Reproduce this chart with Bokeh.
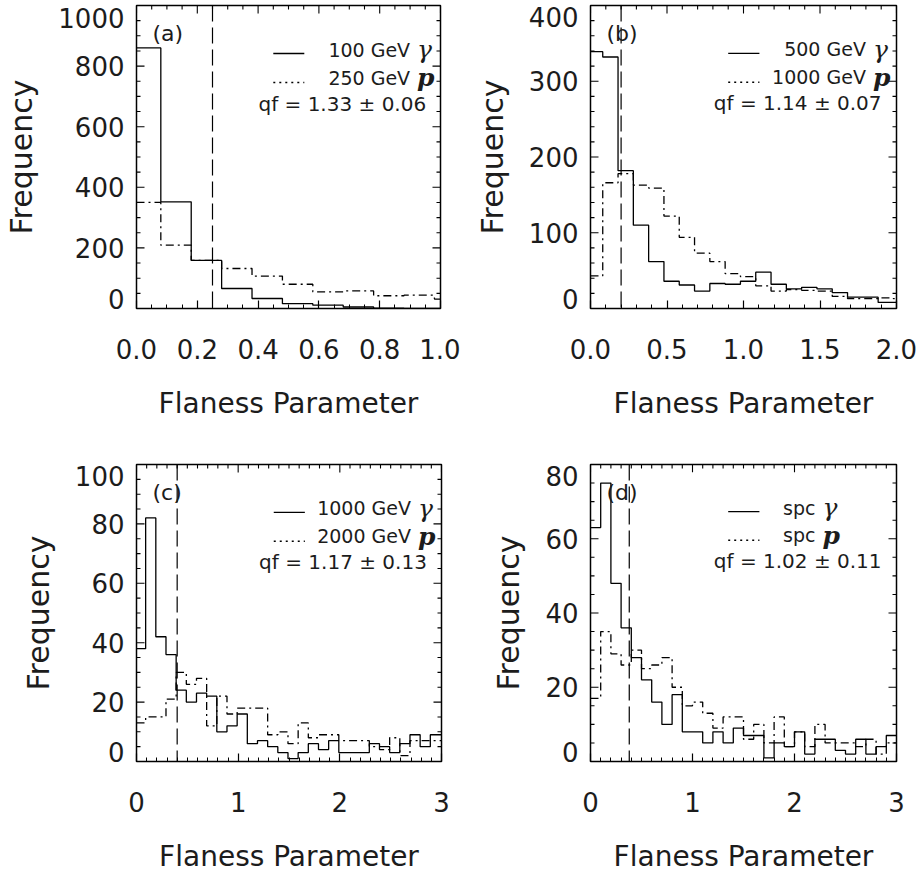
import numpy as np
from bokeh.plotting import figure
from bokeh.layouts import column, row
from bokeh.models import Range1d, FixedTicker, Span, Label, Arrow, LinearAxis
from bokeh.embed import file_html
from bokeh.resources import INLINE

# ---- histogram data: bin edges and counts (gamma = solid, proton = dash-dot) ----
a_edges = [0.0, 0.08, 0.18, 0.28, 0.38, 0.48, 0.58, 0.68, 0.78, 0.88, 0.98, 1.0]
a_gamma = [860, 352, 159, 66, 33, 16, 11, 5, 1, 0, 0]
a_proton = [350, 209, 159, 132, 107, 80, 55, 58, 42, 44, 31]

b_edges = [0.0, 0.08, 0.18, 0.28, 0.38, 0.48, 0.58, 0.68, 0.78, 0.88, 0.98,
           1.08, 1.18, 1.28, 1.38, 1.48, 1.58, 1.68, 1.78, 1.88, 1.98, 2.0]
b_gamma = [339, 332, 182, 110, 62, 36, 31, 23, 33, 32, 36, 48, 32, 26, 28, 26, 21, 15, 15, 8, 8]
b_proton = [43, 166, 178, 163, 159, 122, 94, 73, 62, 46, 42, 30, 23, 25, 24, 23, 16, 13, 13, 14, 13]

c_edges = [0.0, 0.09, 0.19, 0.29, 0.39, 0.49, 0.59, 0.69, 0.79, 0.89, 0.99,
           1.09, 1.19, 1.29, 1.39, 1.49, 1.59, 1.69, 1.79, 1.89, 1.99,
           2.09, 2.19, 2.29, 2.39, 2.49, 2.59, 2.69, 2.79, 2.89, 3.0]
c_gamma = [38, 82, 42, 36, 24, 20, 23, 22, 10, 12, 16, 6, 7, 5, 3,
           1, 3, 6, 4, 7, 3, 3, 3, 6, 5, 3, 6, 9, 5, 9]
c_proton = [13, 15, 15, 21, 30, 26, 28, 12, 22, 16, 18, 18, 18, 9, 10,
            6, 13, 8, 9, 9, 7, 7, 7, 5, 4, 8, 2, 7, 7, 7]

d_edges = [0.0, 0.1, 0.2, 0.3, 0.4, 0.5, 0.6, 0.7, 0.8, 0.9, 1.0,
           1.1, 1.2, 1.3, 1.4, 1.5, 1.6, 1.7, 1.8, 1.9, 2.0,
           2.1, 2.2, 2.3, 2.4, 2.5, 2.6, 2.7, 2.8, 2.9, 3.0]
d_gamma = [63, 75, 48, 36, 28, 22, 16, 10, 18, 8, 8, 5, 8, 5, 9,
           7, 7, 1, 5, 4, 8, 2, 6, 6, 3, 2, 6, 2, 4, 7]
d_proton = [17, 35, 29, 26, 30, 25, 26, 28, 20, 15, 16, 13, 9, 12, 12,
            6, 10, 5, 12, 4, 8, 4, 10, 5, 5, 5, 4, 6, 2, 5]

# cut positions (vertical dashed lines)
cuts = [0.25, 0.2, 0.4, 0.38]

# axis ranges and tick labels
x_max = [1.0, 2.0, 3.0, 3.0]
y_max = [1000, 400, 100, 80]
x_ticks = [[0.0, 0.2, 0.4, 0.6, 0.8, 1.0], [0.0, 0.5, 1.0, 1.5, 2.0], [0, 1, 2, 3], [0, 1, 2, 3]]
x_tick_labels = [["0.0", "0.2", "0.4", "0.6", "0.8", "1.0"],
                 ["0.0", "0.5", "1.0", "1.5", "2.0"],
                 ["0", "1", "2", "3"], ["0", "1", "2", "3"]]
y_ticks = [[0, 200, 400, 600, 800, 1000], [0, 100, 200, 300, 400],
           [0, 20, 40, 60, 80, 100], [0, 20, 40, 60, 80]]
y_tick_labels = [["0", "200", "400", "600", "800", "1000"],
                 ["0", "100", "200", "300", "400"],
                 ["0", "20", "40", "60", "80", "100"],
                 ["0", "20", "40", "60", "80"]]
x_minor_step = [0.05, 0.1, 0.1, 0.1]
y_minor_step = [50, 20, 5, 5]

# annotation texts
tags = ["(a)", "(b)", "(c)", "(d)"]
gamma_labels = ["100 GeV", "500 GeV", "1000 GeV", "spc"]
proton_labels = ["250 GeV", "1000 GeV", "2000 GeV", "spc"]
qf_labels = ["qf = 1.33 \u00b1 0.06", "qf = 1.14 \u00b1 0.07",
             "qf = 1.17 \u00b1 0.13", "qf = 1.02 \u00b1 0.11"]

edges_all = [a_edges, b_edges, c_edges, d_edges]
gamma_all = [a_gamma, b_gamma, c_gamma, d_gamma]
proton_all = [a_proton, b_proton, c_proton, d_proton]

# figure geometry: (width, height, left, right, top, bottom) borders in px
geom = [(460, 440, 136, 20, 5, 132),
        (460, 440, 130, 24, 5, 131),
        (460, 435, 136, 19, 24, 113),
        (460, 435, 130, 24, 20, 113)]
# where the gamma/proton text ends, as a fraction of frame width
name_end = [0.90, 0.90, 0.90, 0.735]

SANS = "DejaVu Sans"
SERIF = "DejaVu Serif"
INK = "#1c1c1c"
MAJ, MIN = 8, 4  # tick lengths, px


def minor_list(lo, hi, step, majors):
    n = int(round((hi - lo) / step))
    vals = [round(lo + k * step, 6) for k in range(n + 1)]
    return [v for v in vals if all(abs(v - m) > 1e-9 for m in majors)]


def panel(i):
    w, h, bl, br, bt, bb = geom[i]
    fw = w - bl - br
    fh = h - bt - bb
    x1, y1 = x_max[i], y_max[i]
    p = figure(width=w, height=h, x_range=Range1d(0, x1), y_range=Range1d(0, y1),
               output_backend="svg", toolbar_location=None, y_axis_location=None,
               min_border_left=bl, min_border_right=br,
               min_border_top=bt, min_border_bottom=bb)
    p.grid.visible = False
    p.outline_line_color = "black"
    p.outline_line_width = 1.5
    p.background_fill_color = "white"
    p.border_fill_color = "white"

    def px_x(px):
        return px / fw * x1

    def px_y(px):
        return px / fh * y1

    xmin = minor_list(0, x1, x_minor_step[i], x_ticks[i])
    ymin = minor_list(0, y1, y_minor_step[i], y_ticks[i])

    # bottom axis: ticks pointing inward, labels and title below
    xa = p.below[0]
    xa.ticker = FixedTicker(ticks=x_ticks[i], minor_ticks=xmin)
    xa.axis_line_color = None
    xa.major_tick_in, xa.major_tick_out = MAJ, 0
    xa.minor_tick_in, xa.minor_tick_out = MIN, 0
    xa.major_tick_line_color = "black"
    xa.minor_tick_line_color = "black"
    xa.major_tick_line_width = 1.2
    xa.major_label_overrides = {float(t): s for t, s in zip(x_ticks[i], x_tick_labels[i])}
    xa.major_label_text_font = SANS
    xa.major_label_text_font_size = "26px"
    xa.major_label_text_color = INK
    xa.major_label_standoff = 30
    xa.axis_label = "Flaness Parameter"
    xa.axis_label_text_font = SANS
    xa.axis_label_text_font_size = "28px"
    xa.axis_label_text_font_style = "normal"
    xa.axis_label_text_color = INK
    xa.axis_label_standoff = 25

    # left axis carries only the labels; the end labels sit inside the box height
    n = len(y_ticks[i])
    label_pos = []
    for k, v in enumerate(y_ticks[i]):
        if k == 0:
            label_pos.append(float(v + px_y(10)))
        elif k == n - 1:
            label_pos.append(float(v - px_y(12)))
        else:
            label_pos.append(float(v))
    ya = LinearAxis(ticker=FixedTicker(ticks=label_pos, minor_ticks=[]))
    ya.axis_line_color = None
    ya.major_tick_line_color = None
    ya.minor_tick_line_color = None
    ya.major_tick_in = ya.major_tick_out = 0
    ya.minor_tick_in = ya.minor_tick_out = 0
    ya.major_label_overrides = {pos: s for pos, s in zip(label_pos, y_tick_labels[i])}
    ya.major_label_text_font = SANS
    ya.major_label_text_font_size = "26px"
    ya.major_label_text_color = INK
    ya.major_label_standoff = 12
    ya.axis_label = "Frequency"
    ya.axis_label_text_font = SANS
    ya.axis_label_text_font_size = "30px"
    ya.axis_label_text_font_style = "normal"
    ya.axis_label_text_color = INK
    ya.axis_label_standoff = 16
    p.add_layout(ya, "left")

    # tick marks on the top, left and right sides of the box
    tx0, ty0, tx1, ty1 = [], [], [], []
    for vals, ln in ((x_ticks[i], MAJ), (xmin, MIN)):
        for v in vals:
            tx0.append(v); ty0.append(y1); tx1.append(v); ty1.append(y1 - px_y(ln))
    for vals, ln in ((y_ticks[i], MAJ), (ymin, MIN)):
        for v in vals:
            tx0.append(0); ty0.append(v); tx1.append(px_x(ln)); ty1.append(v)
            tx0.append(x1); ty0.append(v); tx1.append(x1 - px_x(ln)); ty1.append(v)
    p.segment(x0=tx0, y0=ty0, x1=tx1, y1=ty1, line_color="black", line_width=1.1)

    # histograms
    edges = edges_all[i]
    g = gamma_all[i]
    pr = proton_all[i]
    p.step(x=edges, y=g + [g[-1]], mode="after", line_color="black", line_width=1.3)
    p.step(x=edges, y=pr + [pr[-1]], mode="after", line_color="black", line_width=1.3,
           line_dash="8 4 2 4")

    # cut line
    p.add_layout(Span(location=cuts[i], dimension="height", line_color="black",
                      line_width=1.2, line_dash="16 6"))

    def fy(px_from_top):
        return y1 - px_y(px_from_top)

    p.add_layout(Label(x=px_x(16), y=fy(28), text=tags[i], text_font=SANS,
                       text_font_size="22px", text_color=INK, text_baseline="middle"))

    rows = [44, 72, 98]
    x_end = name_end[i] * x1
    for r, name, sym, style in ((rows[0], gamma_labels[i], "\u03b3", "italic"),
                                (rows[1], proton_labels[i], "p", "bold italic")):
        p.add_layout(Label(x=x_end, y=fy(r), text=name, text_font=SANS,
                           text_font_size="19px", text_color=INK,
                           text_align="right", text_baseline="middle"))
        p.add_layout(Label(x=x_end + px_x(7), y=fy(r), text=sym, text_font=SERIF,
                           text_font_size="25px", text_font_style=style, text_color=INK,
                           text_align="left", text_baseline="middle"))
    # legend line samples
    xs0, xs1 = 0.45 * x1, 0.552 * x1
    p.add_layout(Arrow(x_start=xs0, y_start=fy(rows[0] + 4), x_end=xs1, y_end=fy(rows[0] + 4),
                       start=None, end=None, line_color="black", line_width=1.3))
    p.add_layout(Arrow(x_start=xs0, y_start=fy(rows[1] + 5), x_end=xs1, y_end=fy(rows[1] + 5),
                       start=None, end=None, line_color="black", line_width=1.3,
                       line_dash="2 4"))
    p.add_layout(Label(x=0.677 * x1, y=fy(rows[2]), text=qf_labels[i], text_font=SANS,
                       text_font_size="20px", text_color=INK,
                       text_align="center", text_baseline="middle"))
    return p


figs = [panel(i) for i in range(4)]
layout = column(row(figs[0], figs[1]), row(figs[2], figs[3]))

open("out.html", "w").write(file_html(layout, INLINE))
